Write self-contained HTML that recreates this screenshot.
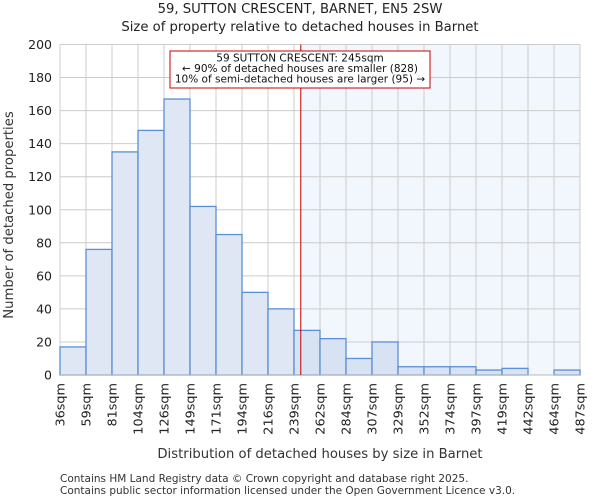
<!DOCTYPE html>
<html><head><meta charset="utf-8"><style>
body{margin:0;background:#fff;font-family:"DejaVu Sans","Liberation Sans",sans-serif;}
svg text{font-family:"DejaVu Sans","Liberation Sans",sans-serif;}
</style></head><body>
<svg id="chart" width="600" height="500" xmlns="http://www.w3.org/2000/svg">
<text x="300" y="13" text-anchor="middle" font-size="13.2" fill="#222">59, SUTTON CRESCENT, BARNET, EN5 2SW</text>
<text x="300" y="31" text-anchor="middle" font-size="13.2" fill="#222">Size of property relative to detached houses in Barnet</text>
<g id="grid"></g>
<g id="bars"></g>
<g id="axes"></g>
<text transform="translate(13,215) rotate(-90)" text-anchor="middle" font-size="13.2" fill="#333">Number of detached properties</text>
<text x="320" y="458" text-anchor="middle" font-size="13.2" fill="#333">Distribution of detached houses by size in Barnet</text>
<text x="60" y="482" font-size="10.5" fill="#333">Contains HM Land Registry data © Crown copyright and database right 2025.</text>
<text x="60" y="494" font-size="10.5" fill="#333">Contains public sector information licensed under the Open Government Licence v3.0.</text>
</svg>
<script>
const categories=["36sqm","59sqm","81sqm","104sqm","126sqm","149sqm","171sqm","194sqm","216sqm","239sqm","262sqm","284sqm","307sqm","329sqm","352sqm","374sqm","397sqm","419sqm","442sqm","464sqm","487sqm"];
const counts=[17,76,135,148,167,102,85,50,40,27,22,10,20,5,5,5,3,4,0,3];
const yTicks=[0,20,40,60,80,100,120,140,160,180,200];
const markerValue=245;
const NS="http://www.w3.org/2000/svg";
const L=60,R=580,T=44.5,B=375,nb=counts.length,bw=(R-L)/nb;
const y=v=>B-(v/200)*(B-T);
const xi=i=>L+i*bw;
const edges=categories.map(c=>parseFloat(c));
function xv(v){for(let i=0;i<edges.length-1;i++){if(v<=edges[i+1])return xi(i)+(v-edges[i])/(edges[i+1]-edges[i])*bw;}return R;}
function mk(tag,attrs,parent){const e=document.createElementNS(NS,tag);for(const k in attrs)e.setAttribute(k,attrs[k]);parent.appendChild(e);return e;}
const grid=document.getElementById('grid'),bars=document.getElementById('bars'),axes=document.getElementById('axes');
const mx=xv(markerValue);
let hl=mk('rect',{x:mx,y:T,width:R-mx,height:B-T,fill:'#f2f6fd'},grid);


yTicks.forEach(t=>{
 let l=mk('line',{x1:L,x2:R,y1:y(t),y2:y(t),stroke:'#ccc','stroke-width':1},grid);
 
 
 let tx=mk('text',{x:L-8,y:y(t)+4.5,'text-anchor':'end','font-size':12.5,fill:'#222'},axes);
 tx.textContent=t;
 
 
});
categories.forEach((c,i)=>{
 let l=mk('line',{x1:xi(i),x2:xi(i),y1:T,y2:B,stroke:'#ccc','stroke-width':1},grid);
 
 
 let tx=mk('text',{transform:`translate(${xi(i)+4.5},383) rotate(-90)`,'text-anchor':'end','font-size':12.8,fill:'#222'},axes);
 tx.textContent=c;
 
 
});
counts.forEach((v,i)=>{
 if(v<=0)return;
 let r=mk('rect',{x:xi(i),y:y(v),width:bw,height:B-y(v),stroke:'#5b8fd6','stroke-width':1.3},bars);
 r.setAttribute('fill',xi(i)+bw>mx?'#d7e2f3':'#dfe7f4');
 
 
});
let ax=mk('line',{x1:L,x2:R,y1:B,y2:B,stroke:'#bbb','stroke-width':1},axes);


let ml=mk('line',{x1:mx,x2:mx,y1:T,y2:B,stroke:'#b00','stroke-width':1},axes);


let box=mk('rect',{x:170,y:51,width:260,height:37,fill:'#fff',stroke:'#c00','stroke-width':1},axes);


["59 SUTTON CRESCENT: 245sqm","← 90% of detached houses are smaller (828)","10% of semi-detached houses are larger (95) →"].forEach((s,k)=>{
 let t=mk('text',{x:300,y:61.5+k*10.5,'text-anchor':'middle','font-size':10.5,fill:'#111'},axes);
 t.textContent=s;
 
 
});
</script>
</body></html>
